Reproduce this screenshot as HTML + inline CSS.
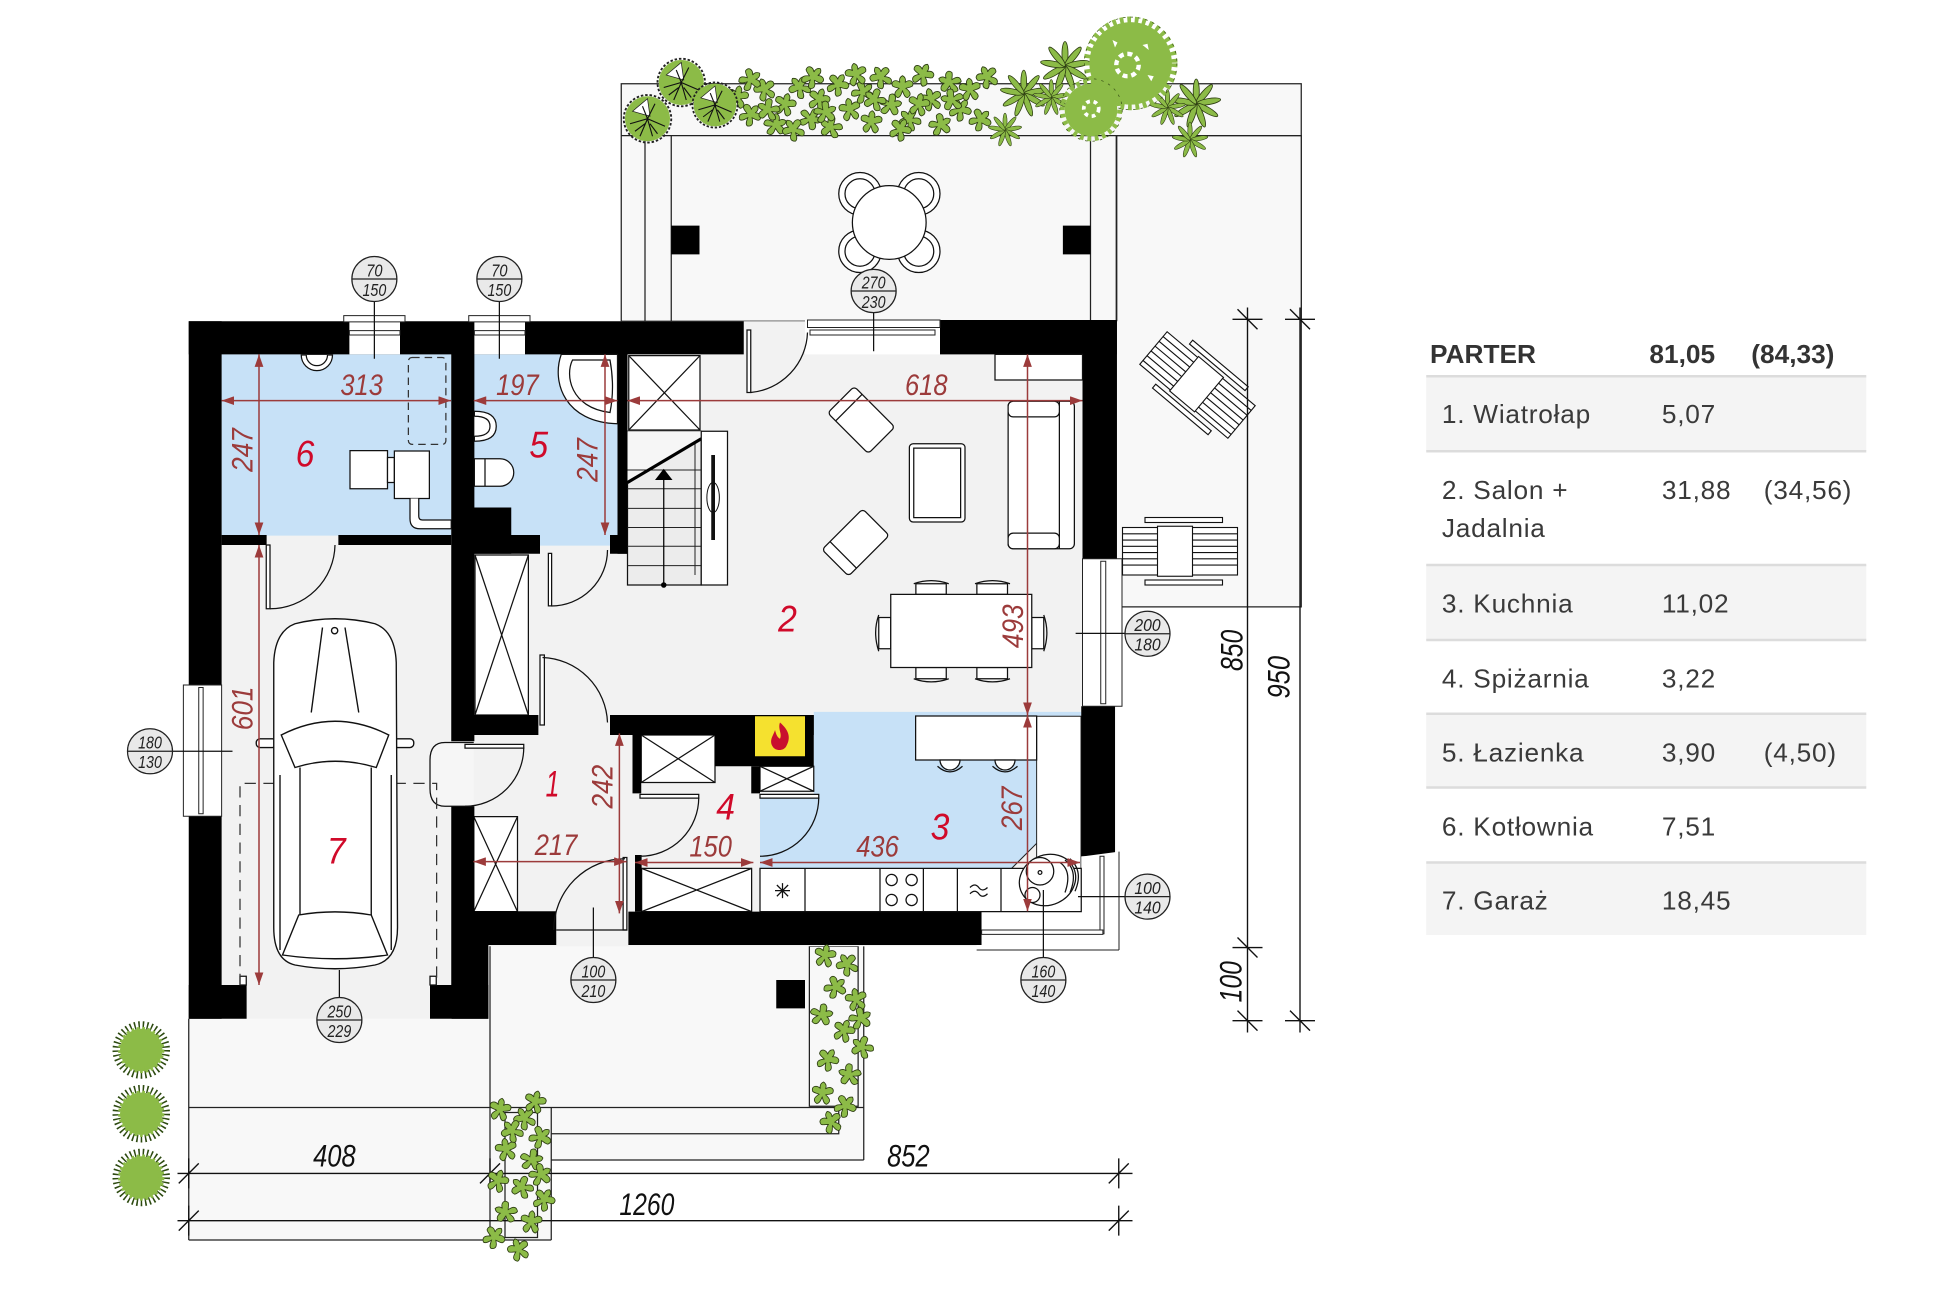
<!DOCTYPE html>
<html><head><meta charset="utf-8"><style>
html,body{margin:0;padding:0;background:#fff;}
svg{display:block;}
.dm{font-family:"Liberation Sans",sans-serif;font-style:italic;fill:#9c3b3b;font-size:24px;}
.bk{font-family:"Liberation Sans",sans-serif;font-style:italic;fill:#111;font-size:25px;}
.rl{font-family:"Liberation Sans",sans-serif;font-style:italic;fill:#d00a2a;font-size:30px;}
.tg{font-family:"Liberation Sans",sans-serif;font-style:italic;fill:#222;font-size:14px;}
.tb{font-family:"Liberation Sans",sans-serif;fill:#3a3a3a;font-size:21px;letter-spacing:0.6px;}
.th{font-family:"Liberation Sans",sans-serif;fill:#333;font-size:21px;font-weight:bold;}
</style></head><body>
<svg width="1950" height="1300" viewBox="0 0 1560 1040" xmlns="http://www.w3.org/2000/svg">
<defs>
<marker id="ar" viewBox="0 0 10 7" refX="10" refY="3.5" markerWidth="10" markerHeight="7" markerUnits="userSpaceOnUse" orient="auto-start-reverse"><path d="M0,0 L10,3.5 L0,7 z" fill="#9c3b3b"/></marker>
<g id="lf"><path transform="scale(1.35)" d="M0,-7 C2,-6 2,-4 1.5,-3 C4,-5 7,-4 6,-1 C5,0 3,0 2,0.5 C4,2 6,4 3,6 C1,6 0.5,3 0,2 C-0.5,3 -1,6 -3,6 C-6,4 -4,2 -2,0.5 C-3,0 -5,0 -6,-1 C-7,-4 -4,-5 -1.5,-3 C-2,-4 -2,-6 0,-7 Z" fill="#8cbb47" stroke="#2d3d12" stroke-width="0.5"/></g>
<g id="palm" fill="#8cbb47" stroke="#2d3d12" stroke-width="0.6">
<ellipse cx="0" cy="-9" rx="2.2" ry="9"/>
<ellipse cx="0" cy="-9" rx="2.2" ry="9" transform="rotate(40)"/>
<ellipse cx="0" cy="-9" rx="2.2" ry="9" transform="rotate(80)"/>
<ellipse cx="0" cy="-9" rx="2.2" ry="9" transform="rotate(120)"/>
<ellipse cx="0" cy="-9" rx="2.2" ry="9" transform="rotate(160)"/>
<ellipse cx="0" cy="-9" rx="2.2" ry="9" transform="rotate(200)"/>
<ellipse cx="0" cy="-9" rx="2.2" ry="9" transform="rotate(240)"/>
<ellipse cx="0" cy="-9" rx="2.2" ry="9" transform="rotate(280)"/>
<ellipse cx="0" cy="-9" rx="2.2" ry="9" transform="rotate(320)"/>
</g>
<g id="shrub">
<circle r="17" fill="#8cbb47"/>
<circle r="20" fill="none" stroke="#2d4a10" stroke-width="6" stroke-dasharray="1.2 2.2"/>
<circle r="16" fill="none" stroke="#8cbb47" stroke-width="5" stroke-dasharray="2 2"/>
</g>
<g id="bush">
<circle r="18" fill="#8cbb47"/>
<circle r="19" fill="none" stroke="#222" stroke-width="1.5" stroke-dasharray="2 1.5"/>
<path d="M-12,-6 L0,-16 L2,-2 Z" fill="#fff" stroke="#222" stroke-width="0.6"/>
<path d="M-14,4 L0,0 L14,6 M-6,14 L0,0 L4,14 M-10,10 L-2,4 M8,12 L2,4 M-4,-10 L0,0 L6,-12" stroke="#111" stroke-width="0.9" fill="none"/>
</g>
</defs>

<rect x="0" y="0" width="1560" height="1040" fill="#fff"/>

<!-- outside terraces -->
<rect x="497" y="67" width="544" height="190" fill="#f8f8f8" stroke="#222" stroke-width="1"/>
<rect x="893" y="108.5" width="148" height="377" fill="#f8f8f8" stroke="#222" stroke-width="1"/>
<g stroke="#222" stroke-width="1" fill="none">
<line x1="497" y1="108.5" x2="1041" y2="108.5"/>
<line x1="516" y1="108.5" x2="516" y2="257"/>
<line x1="537" y1="108.5" x2="537" y2="257"/>
<line x1="872.4" y1="108.5" x2="872.4" y2="257"/>
<line x1="893.4" y1="108.5" x2="893.4" y2="257"/>
</g>
<polygon points="151,815 390,815 390,756 691,756 691,928 441,928 441,992 151,992" fill="#f8f8f8"/>
<g stroke="#222" stroke-width="1" fill="none">
<line x1="151" y1="815" x2="151" y2="992"/>
<line x1="151" y1="886" x2="691" y2="886"/>
<line x1="151" y1="992" x2="441" y2="992"/>
<line x1="441" y1="886" x2="441" y2="992"/>
<line x1="392" y1="756" x2="392" y2="992"/>
<polyline points="441,907 671,907 671,886"/>
<line x1="441" y1="928" x2="691" y2="928"/>
<line x1="691" y1="757" x2="691" y2="928"/>
<rect x="647.5" y="757" width="39" height="128"/>
<rect x="404" y="890" width="26" height="100"/>
</g>

<!-- house floor -->
<polygon points="151,257 893,257 893,729 785,729 785,757 391,757 391,815 151,815" fill="#f2f2f2"/>

<!-- blue rooms -->
<rect x="177.3" y="283.5" width="183.7" height="145" fill="#c7e1f7"/>
<rect x="379" y="283.5" width="115" height="153" fill="#c7e1f7"/>
<polygon points="651,569.5 865,569.5 865,573 829.3,573 829.3,674.7 809.3,694.7 608,694.7 608,637.3 651,637.3" fill="#c7e1f7"/>
<rect x="829.3" y="573" width="35.5" height="156" fill="#fff" stroke="#222" stroke-width="0.8"/>
<line x1="829.3" y1="674.7" x2="809.3" y2="694.7" stroke="#222" stroke-width="0.8"/>

<!-- closets with X -->
<g fill="#fff" stroke="#111" stroke-width="1">
<rect x="380" y="444" width="42.7" height="128"/>
<path d="M380,444 L422.7,572 M422.7,444 L380,572" fill="none"/>
<rect x="379" y="653.3" width="35" height="76"/>
<path d="M379,653.3 L414,729.3 M414,653.3 L379,729.3" fill="none"/>
<rect x="513" y="588" width="59" height="38"/>
<path d="M513,588 L572,626 M572,588 L513,626" fill="none"/>
<rect x="608" y="613" width="43" height="20"/>
<path d="M608,613 L651,633 M651,613 L608,633" fill="none"/>
<rect x="513.3" y="694.7" width="88" height="34.6"/>
<path d="M513.3,694.7 L601.3,729.3 M601.3,694.7 L513.3,729.3" fill="none"/>
<rect x="503" y="284.5" width="57" height="59.5"/>
<path d="M503,284.5 L560,344 M560,284.5 L503,344" fill="none"/>
</g>

<!-- stairs -->
<rect x="502" y="345" width="59" height="123" fill="#ececec" stroke="#111" stroke-width="1"/>
<polygon points="502,345 561,345 561,351 502,386" fill="#f6f6f6"/>
<g stroke="#222" stroke-width="0.8">
<line x1="502" y1="376" x2="561" y2="376"/><line x1="502" y1="391" x2="561" y2="391"/>
<line x1="502" y1="406.7" x2="561" y2="406.7"/><line x1="502" y1="422" x2="561" y2="422"/>
<line x1="502" y1="437" x2="561" y2="437"/><line x1="502" y1="452.5" x2="561" y2="452.5"/>
<line x1="556" y1="355" x2="556" y2="460"/>
</g>
<line x1="502" y1="386" x2="561" y2="351" stroke="#000" stroke-width="2.5"/>
<line x1="531" y1="380" x2="531" y2="468" stroke="#000" stroke-width="1"/>
<polygon points="524,384 538,384 531,375" fill="#000"/>
<circle cx="531" cy="468" r="2.2" fill="#000"/>
<rect x="561" y="345" width="21" height="123" fill="#fff" stroke="#111" stroke-width="1"/>
<line x1="570.5" y1="364" x2="570.5" y2="432" stroke="#111" stroke-width="3"/>
<ellipse cx="570.5" cy="398" rx="5" ry="12" fill="none" stroke="#111" stroke-width="0.8"/>

<!-- walls -->
<g fill="#000">
<rect x="151" y="257" width="444" height="26.5"/>
<rect x="752" y="256" width="141.5" height="27.5"/>
<rect x="866" y="256" width="27.5" height="191"/>
<rect x="865" y="565" width="27" height="120"/>
<rect x="151" y="257" width="26.3" height="291"/>
<rect x="151" y="653" width="26.3" height="162"/>
<rect x="151" y="788" width="46.3" height="27"/>
<rect x="344" y="788" width="46.7" height="27"/>
<rect x="361" y="283" width="18.5" height="310"/>
<rect x="361" y="645" width="18.5" height="143"/>
<rect x="361.3" y="756" width="29.4" height="59"/>
<rect x="177.3" y="428" width="36" height="8"/>
<rect x="270.7" y="428" width="90.3" height="8"/>
<rect x="379" y="428" width="53" height="15"/>
<rect x="379" y="406" width="30" height="37"/>
<rect x="488" y="428" width="14" height="15"/>
<rect x="494" y="283" width="8" height="160"/>
<rect x="368" y="572" width="62.7" height="16"/>
<rect x="488" y="572" width="163" height="16"/>
<rect x="572" y="572" width="79" height="41"/>
<rect x="601" y="613" width="7" height="21.7"/>
<rect x="506" y="572" width="7" height="62.7"/>
<rect x="508" y="684" width="5.3" height="45.3"/>
<rect x="378.7" y="729" width="66.3" height="27"/>
<rect x="502.7" y="729.3" width="282.6" height="26.7"/>
<rect x="621" y="784" width="23" height="22.7"/>
<rect x="537" y="180.5" width="22.6" height="23"/>
<rect x="850.3" y="180.5" width="22.1" height="23"/>
</g>

<!-- fireplace -->
<rect x="604" y="573" width="40" height="32" fill="#f5e12f"/>
<path d="M624,578 C631,584 633,590 629,597 C627,601 620,601 618,597 C615,592 619,588 620,584 C621,588 622,590 624,591 C626,587 622,583 624,578 Z" fill="#c8102e"/>

<!-- windows -->
<g fill="#fff" stroke="#222" stroke-width="0.8">
<rect x="279.5" y="257" width="40.5" height="26.5" stroke="none"/>
<rect x="275" y="252.5" width="49" height="5"/>
<rect x="279.5" y="264.5" width="40.5" height="3.5"/>
<rect x="379.5" y="257" width="40.5" height="26.5" stroke="none"/>
<rect x="375" y="252.5" width="49" height="5"/>
<rect x="379.5" y="264.5" width="40.5" height="3.5"/>
<rect x="644" y="256" width="108" height="27.5" stroke="none"/>
<rect x="646" y="256" width="106" height="6"/>
<rect x="648" y="264" width="100" height="4"/>
<rect x="866" y="447" width="31.6" height="118"/>
<rect x="880.6" y="449" width="4" height="114"/>
<rect x="146.7" y="548" width="30.6" height="105"/>
<rect x="159" y="550" width="3.5" height="101"/>
</g>
<g fill="#fff" stroke="#222" stroke-width="0.8">
<path d="M865,685.3 L895.2,681.3 L895.2,760 L781.3,760 L781.3,756 L785.3,756 L785.3,729.3 L865,729.3 Z" stroke="none"/>
<line x1="895.2" y1="681.3" x2="895.2" y2="760"/>
<line x1="781.3" y1="760" x2="895.2" y2="760"/>
<rect x="880" y="685" width="3.2" height="62"/>
<rect x="785.3" y="744" width="97" height="3.5"/>
</g>

<!-- doors -->
<g fill="none" stroke="#111" stroke-width="1">
<rect x="597.6" y="264" width="3" height="50" fill="#fff"/>
<path d="M600.6,314 A50,50 0 0 0 646,266"/>
<rect x="213" y="436" width="3" height="51" fill="#fff"/>
<path d="M216,487 A52,52 0 0 0 268,436"/>
<rect x="438.7" y="442.7" width="2.6" height="42" fill="#fff"/>
<path d="M441,484.8 A45,45 0 0 0 486,440"/>
<rect x="432" y="524" width="3.5" height="56" fill="#fff"/>
<path d="M434,526 A54,54 0 0 1 486,578"/>
<path d="M379,594 L356,594 Q344,594 344,608 L344,631 Q344,645 356,645 L379,645" fill="#f6f6f6"/>
<rect x="372" y="595.5" width="47" height="3" fill="#fff"/>
<path d="M419,598 A47,47 0 0 1 372,645"/>
<rect x="512" y="635.5" width="47" height="3" fill="#fff"/>
<path d="M559,638 A47,47 0 0 1 512,685"/>
<rect x="608" y="635.5" width="47" height="3" fill="#fff"/>
<path d="M655,638 A47,47 0 0 1 608,685"/>
<rect x="498.5" y="686" width="3" height="58" fill="#fff"/>
<path d="M500,687 A57,57 0 0 0 443,744"/>
<line x1="445" y1="744" x2="502" y2="744"/>
<rect x="192" y="781" width="5" height="7" fill="#fff"/>
<rect x="344" y="781" width="5" height="7" fill="#fff"/>
</g>
<path d="M192,788 L192,626.7 L349.3,626.7 L349.3,788" fill="none" stroke="#333" stroke-width="1" stroke-dasharray="9 6"/>

<!-- room 6 items -->
<g fill="#fff" stroke="#111" stroke-width="1">
<path d="M241,284 A12.5,12.5 0 0 0 266,284 Z"/>
<path d="M245,284 A8.5,8.5 0 0 0 262,284"/>
<rect x="280" y="360.5" width="30" height="30.5"/>
<rect x="310" y="366" width="5.5" height="20"/>
<rect x="315.5" y="360.8" width="28" height="38"/>
<path d="M328,398.8 L328,415 Q328,423 336,423 L361,423 L361,416 L338,416 Q335,416 335,413 L335,398.8"/>
</g>
<rect x="326.7" y="286" width="30" height="69.5" rx="3" fill="none" stroke="#333" stroke-width="1" stroke-dasharray="6 4"/>

<!-- room 5 items -->
<g fill="#fff" stroke="#111" stroke-width="1">
<path d="M449,283.5 C441,306 452,338 494,339 L494,283.5 Z"/>
<path d="M458,288 C452,300 456,326 488,330 Q492,310 488,288 Z"/>
<path d="M379.5,329 Q397,329 397,341 Q397,353 379.5,353 Z"/>
<path d="M379.5,333 Q392,333 392,341 Q392,349 379.5,349"/>
<path d="M379.5,367 L400,367 A11,11 0 0 1 400,389 L379.5,389 Z"/>
<line x1="388" y1="367" x2="388" y2="389"/>
</g>

<!-- car -->
<g fill="#fff" stroke="#111" stroke-width="1.1">
<rect x="205" y="591" width="16" height="7" rx="3"/>
<rect x="315" y="591" width="16" height="7" rx="3"/>
<path d="M236,499 Q268,491 300,499 Q316,505 317,530 L318,742 Q318,768 300,772 Q268,778 236,772 Q219,768 219,742 L219,530 Q220,505 236,499 Z"/>
<path d="M225,588 Q268,566 311,588 L301,614 Q268,604 236,614 Z"/>
<path d="M239,732 Q268,727 297,732 L310,764 Q268,770 226,764 Z"/>
<path d="M258,502 L249,570 M276,502 L287,570 M240,614 L240,732 M297,614 L297,732 M224,620 L224,760 M313,620 L313,760" fill="none"/>
<circle cx="267.7" cy="504.5" r="2.5"/>
</g>

<!-- living room furniture -->
<g fill="#fff" stroke="#111" stroke-width="1">
<g transform="translate(689,336) rotate(-45)">
<rect x="-15" y="-23" width="30" height="46" rx="3"/>
<line x1="-15" y1="-14" x2="15" y2="-14"/>
</g>
<g transform="translate(684.5,434) rotate(-135)">
<rect x="-15" y="-23" width="30" height="46" rx="3"/>
<line x1="-15" y1="-14" x2="15" y2="-14"/>
</g>
<rect x="727.5" y="355" width="44.5" height="62.6" rx="3"/>
<rect x="731" y="358.5" width="37.5" height="55.6"/>
<rect x="806.5" y="321" width="53" height="118" rx="4"/>
<line x1="847.5" y1="321" x2="847.5" y2="439"/>
<rect x="806.5" y="321" width="41" height="12.5" rx="4"/>
<rect x="806.5" y="426.5" width="41" height="12.5" rx="4"/>
<rect x="796" y="283.5" width="70" height="20.5"/>
<rect x="732.7" y="467" width="24.3" height="8.5"/>
<rect x="781.5" y="467" width="24.5" height="8.5"/>
<rect x="732.7" y="534" width="24.3" height="9"/>
<rect x="781.5" y="534" width="24.5" height="9"/>
<rect x="703" y="494" width="9.6" height="25"/>
<rect x="825.4" y="494" width="9.6" height="25"/>
<path d="M731,467 Q745,462 759,467 M780,467 Q794,462 808,467 M731,543 Q745,548 759,543 M780,543 Q794,548 808,543 M703,492 Q698,506 703,521 M835,492 Q840,506 835,521" fill="none"/>
<rect x="712.6" y="475.5" width="112.8" height="58.5"/>
</g>

<!-- terrace table -->
<g fill="#fff" stroke="#111" stroke-width="1">
<circle cx="688" cy="155" r="17"/><circle cx="735" cy="155" r="17"/>
<circle cx="688" cy="201" r="17"/><circle cx="735" cy="201" r="17"/>
<circle cx="688" cy="155" r="12" fill="none"/><circle cx="735" cy="155" r="12" fill="none"/>
<circle cx="688" cy="201" r="12" fill="none"/><circle cx="735" cy="201" r="12" fill="none"/>
<circle cx="711.4" cy="178" r="29.5"/>
</g>

<!-- sun loungers -->
<g fill="#fff" stroke="#111" stroke-width="0.9">
<g transform="translate(944,441)">
<rect x="-46" y="-19" width="92" height="38"/>
<rect x="-18" y="-20" width="28" height="40"/>
<path d="M-46,-14 H-18 M-46,-9 H-18 M-46,-4 H-18 M-46,1 H-18 M-46,6 H-18 M-46,11 H-18 M10,-14 H46 M10,-9 H46 M10,-4 H46 M10,1 H46 M10,6 H46 M10,11 H46" fill="none"/>
<rect x="-28" y="-27" width="62" height="4"/>
<rect x="-28" y="23" width="62" height="4"/>
</g>
<g transform="translate(958,308) rotate(40)">
<rect x="-46" y="-17" width="92" height="34"/>
<rect x="-14" y="-18" width="26" height="36"/>
<path d="M-46,-12 H-14 M-46,-7 H-14 M-46,-2 H-14 M-46,3 H-14 M-46,8 H-14 M-46,13 H-14 M12,-12 H46 M12,-7 H46 M12,-2 H46 M12,3 H46 M12,8 H46 M12,13 H46" fill="none"/>
<rect x="-26" y="-25" width="58" height="4"/>
<rect x="-26" y="21" width="58" height="4"/>
</g>
</g>

<!-- kitchen -->
<g fill="#fff" stroke="#111" stroke-width="1">
<rect x="732.5" y="572.8" width="96.8" height="35.2"/>
<path d="M752,608 A8,8 0 0 0 768,608 Z M796,608 A8,8 0 0 0 812,608 Z"/>
<path d="M750,613 Q760,622 770,613 M794,613 Q804,622 814,613" fill="none"/>
<rect x="608" y="694.7" width="257" height="34.6"/>
<path d="M644,694.7 V729.3 M704,694.7 V729.3 M738.7,694.7 V729.3 M765.9,694.7 V729.3 M800.8,694.7 V729.3" fill="none"/>
<circle cx="713.3" cy="704" r="4.5"/><circle cx="729.3" cy="704" r="4.5"/>
<circle cx="713.3" cy="720" r="4.5"/><circle cx="729.3" cy="720" r="4.5"/>
<path d="M620,712.5 H632 M626,706.5 V718.5 M621.5,708 L630.5,717 M630.5,708 L621.5,717" fill="none"/>
<path d="M776,710 Q780,706 783,710 Q786,714 790,710 M776,715 Q780,711 783,715 Q786,719 790,715" fill="none"/>
<ellipse cx="838" cy="704" rx="23" ry="20" transform="rotate(-25 838 704)"/>
<circle cx="832" cy="697" r="11"/>
<circle cx="826" cy="716" r="6"/>
<circle cx="832" cy="698" r="1.5"/>
<path d="M848,690 Q858,697 852,714 M852,688 Q863,697 856,714 M856,687 Q867,697 860,713" fill="none"/>
</g>

<!-- dimension lines -->
<g stroke="#9c3b3b" stroke-width="1.2" marker-start="url(#ar)" marker-end="url(#ar)">
<line x1="177.3" y1="320.5" x2="360.8" y2="320.5"/>
<line x1="379" y1="320.5" x2="494" y2="320.5"/>
<line x1="502" y1="320.5" x2="866" y2="320.5"/>
<line x1="207.2" y1="283.5" x2="207.2" y2="428"/>
<line x1="484" y1="283.5" x2="484" y2="428"/>
<line x1="207.2" y1="436" x2="207.2" y2="788"/>
<line x1="822" y1="283.5" x2="822" y2="572"/>
<line x1="822" y1="572" x2="822" y2="729"/>
<line x1="378.7" y1="689.3" x2="501.3" y2="689.3"/>
<line x1="495.5" y1="586.7" x2="495.5" y2="730.7"/>
<line x1="508" y1="690" x2="602.7" y2="690"/>
<line x1="608" y1="690" x2="864" y2="690"/>
</g>
<text class="dm" x="289.3" y="316" text-anchor="middle" textLength="34" lengthAdjust="spacingAndGlyphs">313</text>
<text class="dm" x="413.9" y="316" text-anchor="middle" textLength="34" lengthAdjust="spacingAndGlyphs">197</text>
<text class="dm" x="741" y="316" text-anchor="middle" textLength="34" lengthAdjust="spacingAndGlyphs">618</text>
<text class="dm" x="444.8" y="684" text-anchor="middle" textLength="34" lengthAdjust="spacingAndGlyphs">217</text>
<text class="dm" x="568.5" y="685" text-anchor="middle" textLength="34" lengthAdjust="spacingAndGlyphs">150</text>
<text class="dm" x="702" y="685" text-anchor="middle" textLength="34" lengthAdjust="spacingAndGlyphs">436</text>
<text class="dm" transform="translate(193.3,360) rotate(-90)" x="0" y="8.5" text-anchor="middle" textLength="35" lengthAdjust="spacingAndGlyphs">247</text>
<text class="dm" transform="translate(469.3,368) rotate(-90)" x="0" y="8.5" text-anchor="middle" textLength="35" lengthAdjust="spacingAndGlyphs">247</text>
<text class="dm" transform="translate(193.3,566.7) rotate(-90)" x="0" y="8.5" text-anchor="middle" textLength="35" lengthAdjust="spacingAndGlyphs">601</text>
<text class="dm" transform="translate(810,501) rotate(-90)" x="0" y="8.5" text-anchor="middle" textLength="35" lengthAdjust="spacingAndGlyphs">493</text>
<text class="dm" transform="translate(809,646.7) rotate(-90)" x="0" y="8.5" text-anchor="middle" textLength="35" lengthAdjust="spacingAndGlyphs">267</text>
<text class="dm" transform="translate(481.3,629.3) rotate(-90)" x="0" y="8.5" text-anchor="middle" textLength="35" lengthAdjust="spacingAndGlyphs">242</text>

<!-- room labels -->
<text class="rl" x="244" y="373.3" text-anchor="middle" textLength="15" lengthAdjust="spacingAndGlyphs">6</text>
<text class="rl" x="431" y="366" text-anchor="middle" textLength="15" lengthAdjust="spacingAndGlyphs">5</text>
<text class="rl" x="630" y="505" text-anchor="middle" textLength="15" lengthAdjust="spacingAndGlyphs">2</text>
<text class="rl" x="442" y="637.3" text-anchor="middle" textLength="11" lengthAdjust="spacingAndGlyphs">1</text>
<text class="rl" x="580.5" y="655.5" text-anchor="middle" textLength="15" lengthAdjust="spacingAndGlyphs">4</text>
<text class="rl" x="752" y="671.5" text-anchor="middle" textLength="15" lengthAdjust="spacingAndGlyphs">3</text>
<text class="rl" x="269" y="690.7" text-anchor="middle" textLength="15" lengthAdjust="spacingAndGlyphs">7</text>

<!-- outer dimension lines -->
<g stroke="#111" stroke-width="1.1" fill="none">
<line x1="998" y1="246" x2="998" y2="826"/>
<line x1="1040" y1="246" x2="1040" y2="826"/>
<path d="M986,255.4 H1010 M990,247.4 L1006,263.4 M986,758 H1010 M990,750 L1006,766 M986,816.5 H1010 M990,808.5 L1006,824.5"/>
<path d="M1028,255.4 H1052 M1032,247.4 L1048,263.4 M1028,816.5 H1052 M1032,808.5 L1048,824.5"/>
<line x1="142" y1="938.7" x2="906" y2="938.7"/>
<line x1="142" y1="976.5" x2="906" y2="976.5"/>
<path d="M151,926.7 V950.7 M143,946.7 L159,930.7 M392,926.7 V950.7 M384,946.7 L400,930.7 M895,926.7 V950.7 M887,946.7 L903,930.7"/>
<path d="M151,964.5 V988.5 M143,984.5 L159,968.5 M895,964.5 V988.5 M887,984.5 L903,968.5"/>
</g>
<text class="bk" x="267.5" y="933.3" text-anchor="middle" textLength="34" lengthAdjust="spacingAndGlyphs">408</text>
<text class="bk" x="726.7" y="933.3" text-anchor="middle" textLength="34" lengthAdjust="spacingAndGlyphs">852</text>
<text class="bk" x="517.5" y="972" text-anchor="middle" textLength="44" lengthAdjust="spacingAndGlyphs">1260</text>
<text class="bk" transform="translate(984.8,520.3) rotate(-90)" x="0" y="9" text-anchor="middle" textLength="33" lengthAdjust="spacingAndGlyphs">850</text>
<text class="bk" transform="translate(1022.7,541.8) rotate(-90)" x="0" y="9" text-anchor="middle" textLength="34" lengthAdjust="spacingAndGlyphs">950</text>
<text class="bk" transform="translate(984,785.4) rotate(-90)" x="0" y="9" text-anchor="middle" textLength="33" lengthAdjust="spacingAndGlyphs">100</text>

<!-- tag leader lines -->
<g stroke="#111" stroke-width="1">
<line x1="299.5" y1="241" x2="299.5" y2="287"/>
<line x1="399.5" y1="241" x2="399.5" y2="287"/>
<line x1="698.9" y1="250" x2="698.9" y2="281"/>
<line x1="860.5" y1="506.7" x2="900" y2="506.7"/>
<line x1="862.4" y1="717.3" x2="900" y2="717.3"/>
<line x1="834.7" y1="712" x2="834.7" y2="766"/>
<line x1="474.7" y1="726" x2="474.7" y2="766"/>
<line x1="271.5" y1="776" x2="271.5" y2="798"/>
<line x1="138" y1="601" x2="186" y2="601"/>
</g>
<!-- tags -->
<g fill="#e9e9e9" stroke="#222" stroke-width="1">
<circle cx="299.5" cy="223.2" r="18"/><circle cx="399.5" cy="223.2" r="18"/>
<ellipse cx="698.9" cy="232.8" rx="18" ry="17.3"/>
<circle cx="918" cy="507" r="18"/><circle cx="918" cy="717.3" r="18"/>
<circle cx="834.7" cy="784" r="18"/><circle cx="474.7" cy="784" r="18"/>
<circle cx="271.5" cy="816" r="18"/><circle cx="120" cy="601" r="18"/>
</g>
<g stroke="#222" stroke-width="1">
<line x1="281.5" y1="223.2" x2="317.5" y2="223.2"/><line x1="381.5" y1="223.2" x2="417.5" y2="223.2"/>
<line x1="680.9" y1="232.8" x2="716.9" y2="232.8"/>
<line x1="900" y1="507" x2="936" y2="507"/><line x1="900" y1="717.3" x2="936" y2="717.3"/>
<line x1="816.7" y1="784" x2="852.7" y2="784"/><line x1="456.7" y1="784" x2="492.7" y2="784"/>
<line x1="253.5" y1="816" x2="289.5" y2="816"/><line x1="102" y1="601" x2="138" y2="601"/>
</g>
<g class="tg" text-anchor="middle">
<text class="tg" x="299.5" y="221" textLength="13" lengthAdjust="spacingAndGlyphs">70</text>
<text class="tg" x="299.5" y="236.7" textLength="19" lengthAdjust="spacingAndGlyphs">150</text>
<text class="tg" x="399.5" y="221" textLength="13" lengthAdjust="spacingAndGlyphs">70</text>
<text class="tg" x="399.5" y="236.7" textLength="19" lengthAdjust="spacingAndGlyphs">150</text>
<text class="tg" x="698.9" y="230.6" textLength="19" lengthAdjust="spacingAndGlyphs">270</text>
<text class="tg" x="698.9" y="246.3" textLength="19" lengthAdjust="spacingAndGlyphs">230</text>
<text class="tg" x="918" y="504.8" textLength="21" lengthAdjust="spacingAndGlyphs">200</text>
<text class="tg" x="918" y="520.5" textLength="21" lengthAdjust="spacingAndGlyphs">180</text>
<text class="tg" x="918" y="715.1" textLength="21" lengthAdjust="spacingAndGlyphs">100</text>
<text class="tg" x="918" y="730.8" textLength="21" lengthAdjust="spacingAndGlyphs">140</text>
<text class="tg" x="834.7" y="781.8" textLength="19" lengthAdjust="spacingAndGlyphs">160</text>
<text class="tg" x="834.7" y="797.5" textLength="19" lengthAdjust="spacingAndGlyphs">140</text>
<text class="tg" x="474.7" y="781.8" textLength="19" lengthAdjust="spacingAndGlyphs">100</text>
<text class="tg" x="474.7" y="797.5" textLength="19" lengthAdjust="spacingAndGlyphs">210</text>
<text class="tg" x="271.5" y="813.8" textLength="19" lengthAdjust="spacingAndGlyphs">250</text>
<text class="tg" x="271.5" y="829.5" textLength="19" lengthAdjust="spacingAndGlyphs">229</text>
<text class="tg" x="120" y="598.8" textLength="19" lengthAdjust="spacingAndGlyphs">180</text>
<text class="tg" x="120" y="614.5" textLength="19" lengthAdjust="spacingAndGlyphs">130</text>
</g>

<!-- plants: top -->
<g>
<use href="#lf" transform="translate(590,78) rotate(10)"/>
<use href="#lf" transform="translate(600,92) rotate(40)"/>
<use href="#lf" transform="translate(612,72) rotate(-20)"/>
<use href="#lf" transform="translate(620,100) rotate(70)"/>
<use href="#lf" transform="translate(628,84) rotate(15)"/>
<use href="#lf" transform="translate(640,70) rotate(-40)"/>
<use href="#lf" transform="translate(648,95) rotate(100)"/>
<use href="#lf" transform="translate(655,80) rotate(20)"/>
<use href="#lf" transform="translate(665,102) rotate(-60)"/>
<use href="#lf" transform="translate(670,68) rotate(30)"/>
<use href="#lf" transform="translate(680,88) rotate(-10)"/>
<use href="#lf" transform="translate(690,74) rotate(50)"/>
<use href="#lf" transform="translate(697,98) rotate(5)"/>
<use href="#lf" transform="translate(705,62) rotate(-30)"/>
<use href="#lf" transform="translate(712,84) rotate(80)"/>
<use href="#lf" transform="translate(722,70) rotate(0)"/>
<use href="#lf" transform="translate(728,96) rotate(-45)"/>
<use href="#lf" transform="translate(738,60) rotate(25)"/>
<use href="#lf" transform="translate(745,80) rotate(-15)"/>
<use href="#lf" transform="translate(752,100) rotate(60)"/>
<use href="#lf" transform="translate(760,66) rotate(-70)"/>
<use href="#lf" transform="translate(768,88) rotate(35)"/>
<use href="#lf" transform="translate(776,72) rotate(-5)"/>
<use href="#lf" transform="translate(784,96) rotate(45)"/>
<use href="#lf" transform="translate(790,62) rotate(-25)"/>
<use href="#lf" transform="translate(600,64) rotate(55)"/>
<use href="#lf" transform="translate(635,104) rotate(-35)"/>
<use href="#lf" transform="translate(660,90) rotate(65)"/>
<use href="#lf" transform="translate(700,80) rotate(-50)"/>
<use href="#lf" transform="translate(735,84) rotate(12)"/>
<use href="#lf" transform="translate(762,80) rotate(-80)"/>
<use href="#lf" transform="translate(720,104) rotate(28)"/>
<use href="#lf" transform="translate(685,60) rotate(-12)"/>
<use href="#lf" transform="translate(650,62) rotate(42)"/>
<use href="#lf" transform="translate(615,88) rotate(-62)"/>
</g>
<use href="#bush" transform="translate(545,66)"/>
<use href="#bush" transform="translate(518,95)"/>
<use href="#bush" transform="translate(572,84) scale(0.95)"/>
<use href="#palm" transform="translate(852,53) scale(1.1)"/>
<use href="#palm" transform="translate(819,75) scale(1.05)"/>
<use href="#palm" transform="translate(841,78) scale(0.8)"/>
<use href="#palm" transform="translate(804,104) scale(0.75)"/>
<use href="#palm" transform="translate(957,83) scale(1.1)"/>
<use href="#palm" transform="translate(934,86) scale(0.8)"/>
<use href="#palm" transform="translate(952,112) scale(0.8)"/>
<g>
<circle cx="904.5" cy="50.7" r="33" fill="#8cbb47"/>
<circle cx="904.5" cy="50.7" r="35" fill="none" stroke="#8cbb47" stroke-width="5" stroke-dasharray="3 3"/>
<circle cx="904.5" cy="50.7" r="37" fill="none" stroke="#3c5518" stroke-width="0.6" stroke-dasharray="2 4"/>
<circle cx="902" cy="52" r="9" fill="none" stroke="#fff" stroke-width="3.5" stroke-dasharray="4 3"/>
<path d="M890,32 l4,2 l-2,4 z M918,60 l5,1 l-2,4 z M914,36 l4,-1 l1,5 z" fill="#fff"/>
<circle cx="872.8" cy="88" r="21" fill="#8cbb47"/>
<circle cx="872.8" cy="88" r="23" fill="none" stroke="#8cbb47" stroke-width="4" stroke-dasharray="3 3"/>
<circle cx="872.8" cy="88" r="25" fill="none" stroke="#3c5518" stroke-width="0.6" stroke-dasharray="2 4"/>
<circle cx="873" cy="87" r="6" fill="none" stroke="#fff" stroke-width="3" stroke-dasharray="3 3"/>
</g>

<!-- plants: left shrubs and ivy strips -->
<use href="#shrub" transform="translate(113,840)"/>
<use href="#shrub" transform="translate(113,891)"/>
<use href="#shrub" transform="translate(113,942)"/>
<g>
<use href="#lf" transform="translate(400,888) rotate(10)"/>
<use href="#lf" transform="translate(420,895) rotate(-30)"/>
<use href="#lf" transform="translate(432,910) rotate(50)"/>
<use href="#lf" transform="translate(405,920) rotate(-10)"/>
<use href="#lf" transform="translate(425,928) rotate(80)"/>
<use href="#lf" transform="translate(398,945) rotate(20)"/>
<use href="#lf" transform="translate(418,950) rotate(-50)"/>
<use href="#lf" transform="translate(435,960) rotate(30)"/>
<use href="#lf" transform="translate(405,970) rotate(-70)"/>
<use href="#lf" transform="translate(425,978) rotate(5)"/>
<use href="#lf" transform="translate(395,990) rotate(40)"/>
<use href="#lf" transform="translate(415,1000) rotate(-20)"/>
<use href="#lf" transform="translate(432,940) rotate(60)"/>
<use href="#lf" transform="translate(410,905) rotate(-40)"/>
<use href="#lf" transform="translate(428,882) rotate(15)"/>
<use href="#lf" transform="translate(660,765) rotate(10)"/>
<use href="#lf" transform="translate(678,772) rotate(-30)"/>
<use href="#lf" transform="translate(668,790) rotate(50)"/>
<use href="#lf" transform="translate(685,800) rotate(-10)"/>
<use href="#lf" transform="translate(657,812) rotate(80)"/>
<use href="#lf" transform="translate(675,825) rotate(20)"/>
<use href="#lf" transform="translate(690,838) rotate(-50)"/>
<use href="#lf" transform="translate(662,848) rotate(30)"/>
<use href="#lf" transform="translate(680,860) rotate(-70)"/>
<use href="#lf" transform="translate(658,875) rotate(5)"/>
<use href="#lf" transform="translate(676,885) rotate(40)"/>
<use href="#lf" transform="translate(665,898) rotate(-20)"/>
<use href="#lf" transform="translate(688,815) rotate(60)"/>
</g>

<!-- table -->
<rect x="1141" y="301" width="352" height="60" fill="#f4f4f4"/>
<rect x="1141" y="452" width="352" height="60" fill="#f4f4f4"/>
<rect x="1141" y="571" width="352" height="59" fill="#f4f4f4"/>
<rect x="1141" y="690" width="352" height="58" fill="#f4f4f4"/>
<g fill="#dcdcdc">
<rect x="1141" y="300" width="352" height="2"/>
<rect x="1141" y="360" width="352" height="2"/>
<rect x="1141" y="451" width="352" height="2"/>
<rect x="1141" y="511" width="352" height="2"/>
<rect x="1141" y="570" width="352" height="2"/>
<rect x="1141" y="629" width="352" height="2"/>
<rect x="1141" y="689" width="352" height="2"/>
</g>
<text class="th" x="1144" y="290.5">PARTER</text>
<text class="th" x="1319.5" y="290.5">81,05</text>
<text class="th" x="1401" y="290.5">(84,33)</text>
<text class="tb" x="1153.5" y="338.5">1. Wiatrołap</text>
<text class="tb" x="1329.5" y="338.5">5,07</text>
<text class="tb" x="1153.5" y="399">2. Salon +</text>
<text class="tb" x="1153.5" y="429.5">Jadalnia</text>
<text class="tb" x="1329.5" y="399">31,88</text>
<text class="tb" x="1411" y="399">(34,56)</text>
<text class="tb" x="1153.5" y="490">3. Kuchnia</text>
<text class="tb" x="1329.5" y="490">11,02</text>
<text class="tb" x="1153.5" y="550">4. Spiżarnia</text>
<text class="tb" x="1329.5" y="550">3,22</text>
<text class="tb" x="1153.5" y="609">5. Łazienka</text>
<text class="tb" x="1329.5" y="609">3,90</text>
<text class="tb" x="1411" y="609">(4,50)</text>
<text class="tb" x="1153.5" y="668.5">6. Kotłownia</text>
<text class="tb" x="1329.5" y="668.5">7,51</text>
<text class="tb" x="1153.5" y="727.5">7. Garaż</text>
<text class="tb" x="1329.5" y="727.5">18,45</text>
</svg>
</body></html>
